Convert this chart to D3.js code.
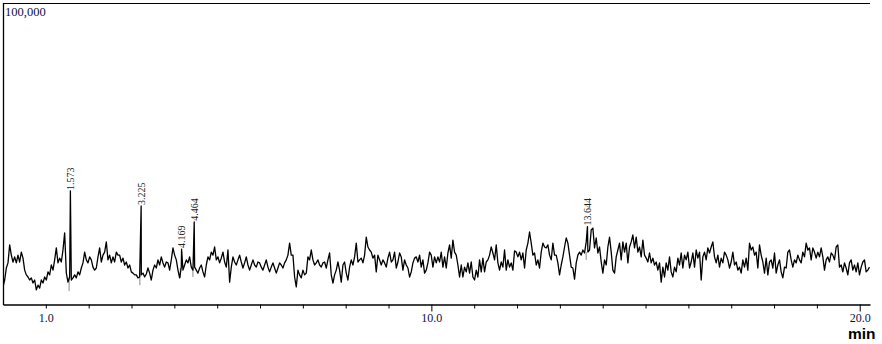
<!DOCTYPE html>
<html>
<head>
<meta charset="utf-8">
<script src="https://cdn.jsdelivr.net/npm/d3@7"></script>
<style>
    body { margin: 0; background: #fff; }
    svg { display: block; }
</style>
</head>
<body>
<svg id="chart" width="882" height="344"></svg>
<script>

/*---------------------------------- data ----------------------------------*/

var sampleInterval = 0.0389; //minutes between detector samples, first sample at 0.0 min

//intensity, one array per ~3.4 min stretch
var signalA = [5700, 8000, 12000, 13700, 19700, 16300, 14000, 15700, 13700, 16300, 14000, 17300, 15300, 11300, 9700, 9000, 8000, 8700, 7000, 8000,
    4700, 6300, 5300, 8000, 7000, 9000, 8000, 10700, 9700, 13000, 11300, 14700, 18700, 13700, 15300, 14000, 18000, 23700, 10300, 7300,
    9000, 8000, 8700, 9700, 8700, 10700, 9700, 12000, 13700, 17300, 14700, 13700, 15700, 14700, 12300, 11300, 12000, 15700, 18700, 14000,
    16300, 17300, 20700, 14700, 16300, 13700, 15700, 14000, 17300, 16300, 16300, 14000, 15300, 13000, 14000, 12000, 13000, 10700, 10300, 9700,
    9700, 8700, 9000, 9700, 10300, 9000, 10000];
var signalB = [12000, 10300, 8000, 11300, 13000, 12000, 14700, 13000, 15700, 13700, 12300, 14000, 13700, 11300, 14700, 18700, 16300, 14700, 11300, 8700,
    12300, 11300, 13000, 14700, 13700, 15700, 12300, 11300, 12300, 11300, 10300, 12000, 13000, 10700, 9000, 13000, 15700, 14700, 17300, 16300,
    19000, 14700, 15700, 13700, 15300, 17300, 14000, 12300, 18000, 7300, 12300, 15700, 14000, 13000, 14700, 16300, 14000, 12000, 13700, 15700,
    13000, 11300, 13000, 14700, 13000, 12300, 14000, 13700, 12300, 11300, 13000, 14700, 12300, 10700, 12300, 13700, 12000, 10300, 12000, 13700,
    13000, 12000, 13700, 14700, 16300, 20300, 16300];
var signalC = [16300, 9000, 5700, 11300, 9700, 8700, 11300, 9700, 10300, 15700, 14700, 18000, 14700, 13000, 13700, 14700, 13000, 12300, 13700, 14000,
    12000, 14700, 17000, 9700, 7000, 9700, 11300, 14000, 11300, 7300, 13000, 14000, 10300, 8000, 12300, 14700, 13000, 15700, 20300, 14000,
    14700, 15300, 13700, 16300, 22300, 19000, 18000, 17300, 15300, 16300, 10700, 16300, 14700, 13000, 14700, 13700, 12300, 15300, 17300, 14000,
    14700, 17300, 12000, 14000, 17000, 15700, 11300, 14700, 13000, 12000, 9000, 10700, 13700, 15300, 15700, 14000, 16300, 12300, 14700, 10300,
    11300, 13700, 17300, 16300, 12300, 15700, 13700];
var signalD = [15700, 14000, 17300, 12300, 15700, 12000, 17000, 19700, 15300, 21300, 17300, 16300, 13000, 9000, 13000, 9000, 12300, 10700, 13700, 10300,
    14000, 9000, 8000, 11300, 9000, 14700, 10700, 15300, 10700, 14000, 14700, 16300, 19000, 17000, 14700, 19700, 13700, 11300, 14000, 12300,
    18000, 11300, 14700, 12300, 13700, 11300, 17700, 17300, 15700, 17300, 14700, 17000, 12000, 18000, 20300, 24000, 20300, 16300, 17000, 13000,
    14700, 12000, 17300, 20300, 19000, 18700, 19700, 16300, 14700, 20300, 16300, 16300, 13700, 9700, 13000, 15700, 19000, 22000, 20300, 16300,
    12300, 12000, 8300, 13700, 16300, 17300, 16300];
var signalE = [18000, 17000, 20700, 17300, 18000, 24700, 25300, 18700, 22000, 17000, 19000, 14000, 10300, 14700, 13000, 19000, 22300, 17300, 11300, 10300,
    15700, 18000, 20300, 14700, 20700, 17300, 20300, 13700, 19000, 20700, 23000, 18700, 22300, 17300, 19000, 15700, 21300, 16300, 15300, 14000,
    17000, 13700, 15300, 13000, 14000, 11300, 13700, 7300, 12300, 9000, 13700, 11300, 15700, 10700, 9000, 12300, 10700, 15300, 13000, 17000,
    12000, 16300, 14700, 17300, 12000, 14000, 17000, 12300, 18000, 15300, 17300, 8000, 15700, 17300, 14700, 18700, 17000, 19000, 20700, 15700,
    13700, 16300, 12300, 15300, 13700, 17300, 16300];
var signalF = [14700, 12000, 14000, 17300, 13000, 14000, 11300, 12300, 10300, 14700, 12300, 15300, 11300, 20300, 18000, 19000, 16300, 17300, 12000, 19700,
    16300, 14000, 10300, 15300, 9700, 14000, 14700, 12000, 17000, 10300, 13000, 14700, 10700, 8700, 12300, 12000, 17300, 18000, 14700, 12300,
    14700, 13700, 16300, 14700, 13700, 17300, 15700, 20300, 18000, 18700, 14700, 18700, 17300, 15300, 17300, 15700, 18700, 15700, 11300, 14700,
    15700, 14000, 17000, 16300, 14700, 19000, 19700, 12300, 13000, 10700, 13700, 12000, 9700, 13700, 14700, 11300, 13000, 10700, 13700, 9700,
    12300, 14000, 14700, 10700, 11300, 12300, 10300];

//integrated peaks
var peakTimes = [1.573, 3.225, 4.169, 4.464, 13.644];
var peakHeights = [37700, 32700, 18300, 27400, 25800];
var peakLabels = ["1.573", "3.225", "4.169", "4.464", "13.644"];
//grey baseline markers under each peak (intensity range)
var markerTops = [9000, 10300, 12000, 12000, 17300];
var markerBottoms = [4300, 6300, 8700, 9000, 14700];

//axis
var xTickValues = d3.range(1, 21);
var xTickLabels = [1, 10, 20];
var xLongTicks = [10, 20];
var yTopLabel = "100,000";

/*---------------------------------- chart ----------------------------------*/

document.addEventListener('DOMContentLoaded', function () {

    var svg = d3.select("#chart");

    var x = d3.scaleLinear().domain([0, 20.24]).range([3, 870]);
    var y = d3.scaleLinear().domain([0, 100000]).range([304, 4]);

    //build the trace: regular samples plus the peak apexes
    var samples = signalA.concat(signalB, signalC, signalD, signalE, signalF);
    var points = samples.map(function (v, i) { return [i * sampleInterval, v]; });
    peakTimes.forEach(function (t, i) { points.push([t, peakHeights[i]]); });
    points.sort(function (a, b) { return a[0] - b[0]; });
    points = points.filter(function (d) { return d[0] <= 20.24; });

    svg.append("clipPath").attr("id", "plot-clip")
        .append("rect")
        .attr("x", x(0)).attr("y", 0)
        .attr("width", x(20.24) - x(0)).attr("height", 344);

    //baseline markers
    svg.append("g").selectAll("line")
        .data(peakTimes)
        .enter().append("line")
        .attr("x1", function (d) { return x(d - 0.03); })
        .attr("x2", function (d) { return x(d - 0.03); })
        .attr("y1", function (d, i) { return y(markerTops[i]); })
        .attr("y2", function (d, i) { return y(markerBottoms[i]); })
        .style("stroke", "#8a8a8a")
        .style("stroke-width", 1);

    //chromatogram line
    var line = d3.line()
        .x(function (d) { return x(d[0]); })
        .y(function (d) { return y(d[1]); });

    svg.append("path")
        .datum(points)
        .attr("clip-path", "url(#plot-clip)")
        .attr("d", line)
        .style("fill", "none")
        .style("stroke", "#000")
        .style("stroke-width", 1.3)
        .style("stroke-linejoin", "round");

    //peak labels (vertical)
    svg.append("g").selectAll("text")
        .data(peakTimes)
        .enter().append("text")
        .attr("transform", function (d, i) {
            return "translate(" + (x(d) + 3.5) + "," + (y(peakHeights[i]) - 1) + ") rotate(-90)";
        })
        .style("font-family", "'Liberation Serif', 'Times New Roman', serif")
        .style("font-size", "10px")
        .style("fill", "#222")
        .text(function (d, i) { return peakLabels[i]; });

    //x axis
    var xAxis = d3.axisBottom(x)
        .tickValues(xTickValues)
        .tickSize(4)
        .tickSizeOuter(0)
        .tickPadding(5)
        .tickFormat(function (d) { return xTickLabels.indexOf(d) >= 0 ? d3.format(".1f")(d) : ""; });

    var gx = svg.append("g")
        .attr("transform", "translate(0,304.5)")
        .call(xAxis);
    gx.select(".domain").style("stroke", "#000").style("stroke-width", 1.3);
    gx.selectAll(".tick line")
        .attr("y2", function (d) { return xLongTicks.indexOf(d) >= 0 ? 7 : 4; })
        .style("stroke", "#000");
    gx.selectAll(".tick text")
        .style("font-family", "'Liberation Serif', 'Times New Roman', serif")
        .style("font-size", "12px")
        .style("fill", "#101040");

    //frame: left and top edges
    svg.append("line")
        .attr("x1", 3.5).attr("x2", 3.5).attr("y1", 3).attr("y2", 305)
        .style("stroke", "#000").style("stroke-width", 1.3);
    svg.append("line")
        .attr("x1", 3).attr("x2", 870).attr("y1", 3.5).attr("y2", 3.5)
        .style("stroke", "#000").style("stroke-width", 1.2);

    //top of scale
    svg.append("text")
        .attr("x", 5).attr("y", 16)
        .style("font-family", "'Liberation Serif', 'Times New Roman', serif")
        .style("font-size", "12.5px")
        .style("fill", "#101040")
        .text(yTopLabel);

    //unit
    svg.append("text")
        .attr("x", 848).attr("y", 339)
        .style("font-family", "'Liberation Sans', Arial, sans-serif")
        .style("font-size", "15.5px")
        .style("font-weight", "bold")
        .style("fill", "#000")
        .text("min");

});
</script>
</body>
</html>
